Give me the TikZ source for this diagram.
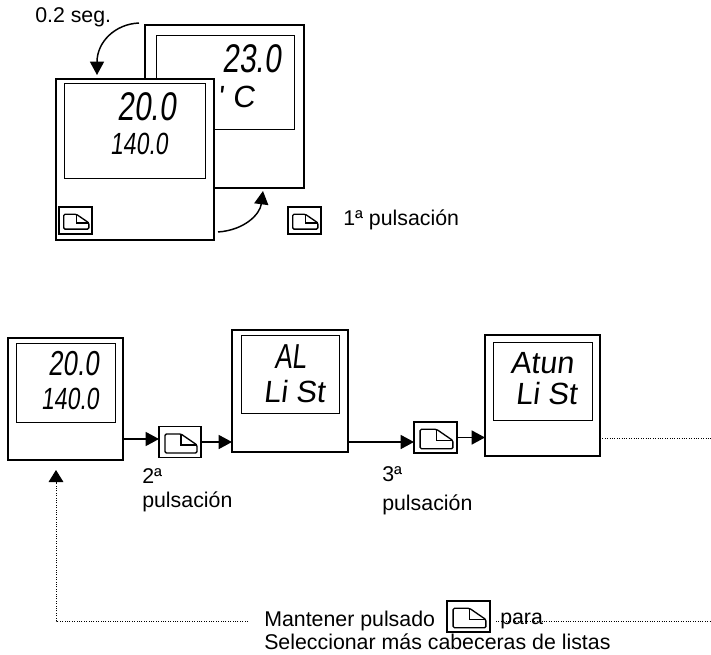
\documentclass[tikz,border=0pt]{standalone}
\usepackage{fontspec}
\setmainfont{Liberation Sans}
\newfontfamily\lcdfont[FakeStretch=0.75, FakeSlant=0.12]{Liberation Sans}
\newfontfamily\lcdwide[FakeStretch=1.0, FakeSlant=0.12]{Liberation Sans}
\usetikzlibrary{arrows.meta}

\tikzset{
  panel/.style 2 args={minimum width=#1*0.75pt, minimum height=#2*0.75pt, inner sep=0pt, outer sep=0pt, fill=white},
  device/.style={draw, line width=1.3pt},
  screen/.style={draw, line width=0.6pt},
  keybox/.style={draw, line width=1pt},
  lcd/.style={font=\lcdfont\fontsize{23}{23}\selectfont, inner sep=0pt},
  lcdmid/.style={font=\lcdfont\fontsize{26}{26}\selectfont, inner sep=0pt},
  lcdbig/.style={font=\lcdfont\fontsize{30}{30}\selectfont, inner sep=0pt},
  lcdword/.style={font=\lcdwide\fontsize{23}{23}\selectfont, inner sep=0pt},
  link/.style={line width=1.1pt, -{Triangle[length=10pt, width=10.5pt]}},
  dots/.style={line width=0.7pt, dash pattern=on 0.7pt off 1.1pt},
  caption/.style={font=\fontsize{16}{18}\selectfont, anchor=west, inner sep=0pt, align=left},
}

% soft key with the folded page corner
\newcommand{\softkey}[5]{%
  \node[keybox, panel={#4}{#5}] (#1) at (#2,#3) {};
  \begin{scope}[shift={(#1.center)}, scale=#4/42, line width=1pt]
    \draw[rounded corners=1pt] (-15,-8) -- (1,-8) -- (17,3) -- (17,11) -- (-15,11) -- cycle;
    \draw (1,-8) -- (1,3) -- (17,3);
  \end{scope}
}

\begin{document}
\begin{tikzpicture}[x=0.75pt, y=-0.75pt]
  \useasboundingbox (0,0) rectangle (711,654);

  % upper pair of displays
  \node[caption] (delay) at (35,17) {0.2 seg.};
  \node[device, panel={159}{163}] (back) at (224.5,106.5) {};
  \node[screen, panel={138}{94}] (backscreen) at (225,82) {};
  \node[lcdbig, anchor=east] (backvalue) at (281,59) {23.0};
  \node[lcdword, anchor=west] (backunit) at (217,97) {'\hspace{7pt}C};
  \node[device, panel={158}{161}] (front) at (135,159.5) {};
  \node[screen, panel={141}{95}] (frontscreen) at (134.5,130.5) {};
  \node[lcdbig, anchor=east] (frontvalue) at (176,107) {20.0};
  \node[lcd, anchor=east] (frontset) at (168,144) {140.0};
  \softkey{frontkey}{75.5}{220.5}{33}{27}
  \softkey{firstkey}{304.5}{220.5}{33}{27}
  \node[caption] (first) at (343,220) {1ª pulsación};
  \coordinate (topstart) at (139,23);
  \coordinate (toptip) at (97,75);
  \coordinate (lowstart) at (218,232);
  \coordinate (lowtip) at (263,191);
  \draw[link] (topstart) .. controls (115,24) and (97,42) .. (toptip);
  \draw[link] (lowstart) .. controls (245,230) and (260,214) .. (lowtip);

  % row of list headers
  \node[device, panel={115}{122}] (head1) at (65.5,399) {};
  \node[screen, panel={99}{79}] (headscreen1) at (65.5,382.5) {};
  \node[lcdmid, anchor=east] (headvalue) at (99,364) {20.0};
  \node[lcd, anchor=east] (headset) at (99,399) {140.0};
  \softkey{key2}{180}{442}{42}{31}
  \node[device, panel={116}{122}] (head2) at (290,391) {};
  \node[screen, panel={98}{78}] (headscreen2) at (290,374) {};
  \node[lcdmid, anchor=west] (alarm) at (274,357) {AL};
  \node[lcdword, anchor=west] (alarmlist) at (263,392) {Li St};
  \softkey{key3}{435.5}{437.5}{43}{31}
  \node[device, panel={115}{121}] (head3) at (542.5,395.5) {};
  \node[screen, panel={99}{78}] (headscreen3) at (542.5,381) {};
  \node[lcdword, anchor=west] (tune) at (510,363) {Atun};
  \node[lcdword, anchor=west] (tunelist) at (515,394) {Li St};

  \coordinate (rowstart) at ([yshift=-30pt]head1.east);
  \draw[link] (rowstart) -- (rowstart -| key2.west);
  \draw[link] (key2.east) -- (key2.east -| head2.west);
  \draw[link] (key2 -| head2.east) -- (key3.west |- key2);
  \draw[link] (key3.east) -- (key3.east -| head3.west);

  \node[caption] (second) at (142,490) {2ª\\pulsación};
  \node[caption] (third) at (382,491) {3ª\\[4pt]pulsación};

  % return path
  \coordinate (outend) at (711,438);
  \draw[dots] (outend -| head3.east) -- (outend);
  \node[caption] (hold) at (264,621) {Mantener pulsado};
  \softkey{holdkey}{468.5}{616.5}{43}{31}
  \node[caption] (para) at (500,621) {para};
  \node[caption] (more) at (264,642) {Seleccionar más cabeceras de listas};
  \coordinate (rowend) at (711,621);
  \coordinate (corner) at (56,621);
  \draw[dots] ([xshift=-3pt]para.west) -- (rowend);
  \draw[dots, -{Triangle[length=9pt, width=11pt]}, shorten >=7.5pt] ([xshift=-12pt]hold.west) -- (corner) -- (corner |- head1.south);
\end{tikzpicture}
\end{document}
